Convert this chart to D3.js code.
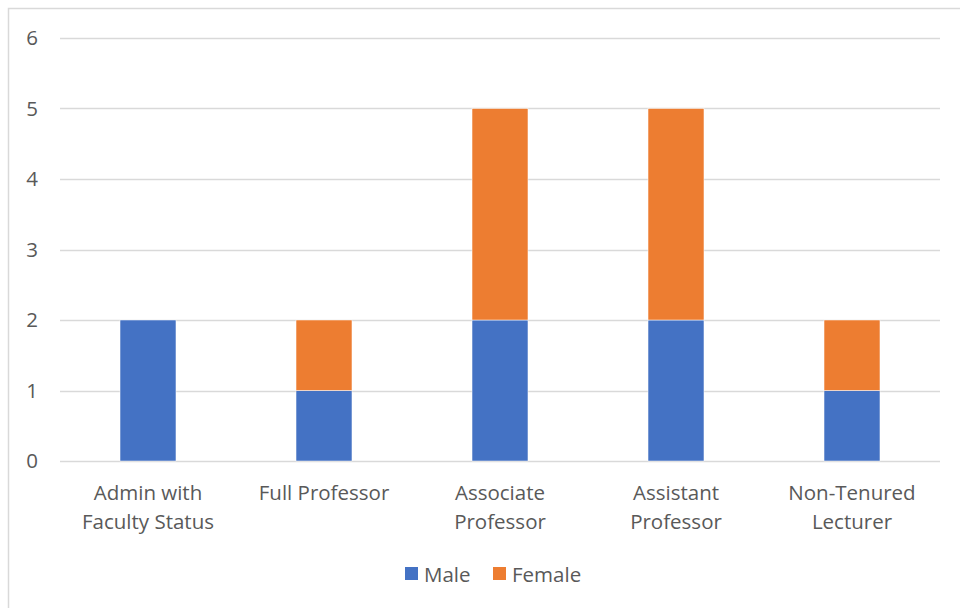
<!DOCTYPE html>
<html>
<head>
<meta charset="utf-8">
<script src="https://cdn.jsdelivr.net/npm/d3@7"></script>
<style>
  body { margin: 0; background: #fff; }
  text { font-family: "Open Sans", "Noto Sans", sans-serif; fill: #595959; }
</style>
</head>
<body>
<div id="chart"></div>
<script>
const categories = [
    ["Admin with", "Faculty Status"],
    ["Full Professor"],
    ["Associate", "Professor"],
    ["Assistant", "Professor"],
    ["Non-Tenured", "Lecturer"]
];
const maleValues = [2, 1, 2, 2, 1];
const femaleValues = [0, 1, 3, 3, 1];
const yTicks = [0, 1, 2, 3, 4, 5, 6];
const seriesNames = ["Male", "Female"];
const seriesColors = ["#4472C4", "#ED7D31"];

const width = 960, height = 608;
const margin = { top: 38, right: 20, bottom: 147, left: 60 };
const fontSize = 20.5;

const svg = d3.select("#chart")
    .append("svg")
    .attr("width", width)
    .attr("height", height);

// chart border
svg.append("rect")
    .attr("x", 8.5)
    .attr("y", 8.5)
    .attr("width", 960)
    .attr("height", 620)
    .attr("fill", "none")
    .attr("stroke", "#d9d9d9")
    .attr("stroke-width", 1.5);

const keys = categories.map(d => d.join(" "));
const data = keys.map((k, i) => ({ key: k, Male: maleValues[i], Female: femaleValues[i] }));

const x = d3.scaleBand()
    .domain(keys)
    .range([margin.left, width - margin.right])
    .paddingInner(0.682)
    .paddingOuter(0.341);

const y = d3.scaleLinear()
    .domain([0, 6])
    .range([height - margin.bottom, margin.top]);

// gridlines
svg.append("g")
    .selectAll("line")
    .data(yTicks)
    .join("line")
    .attr("x1", margin.left)
    .attr("x2", width - margin.right)
    .attr("y1", d => Math.round(y(d)) + 0.5)
    .attr("y2", d => Math.round(y(d)) + 0.5)
    .attr("stroke", "#d9d9d9")
    .attr("stroke-width", 1.3);

// y labels
svg.append("g")
    .selectAll("text")
    .data(yTicks)
    .join("text")
    .attr("x", 38)
    .attr("y", d => y(d))
    .attr("dy", "0.35em")
    .attr("text-anchor", "end")
    .attr("font-size", fontSize)
    .text(d => d);

const stack = d3.stack().keys(seriesNames)(data);

svg.append("g")
    .selectAll("g")
    .data(stack)
    .join("g")
    .attr("fill", (d, i) => seriesColors[i])
    .selectAll("rect")
    .data(d => d.filter(s => s[1] - s[0] > 0))
    .join("rect")
    .attr("x", d => x(d.data.key))
    .attr("y", d => y(d[1]))
    .attr("width", x.bandwidth())
    .attr("height", d => y(d[0]) - y(d[1]))
    .attr("stroke", "#ffffff")
    .attr("stroke-width", 0.5);

// x labels
const xl = svg.append("g")
    .selectAll("text")
    .data(categories)
    .join("text")
    .attr("x", (d, i) => x(keys[i]) + x.bandwidth() / 2)
    .attr("y", 500)
    .attr("text-anchor", "middle")
    .attr("font-size", fontSize);
xl.selectAll("tspan")
    .data(d => d)
    .join("tspan")
    .attr("x", function () { return d3.select(this.parentNode).attr("x"); })
    .attr("dy", (d, i) => i === 0 ? 0 : 29)
    .text(d => d);

// legend
const legend = svg.append("g");
const legendX = [405, 493];
seriesNames.forEach((name, i) => {
    legend.append("rect")
        .attr("x", legendX[i])
        .attr("y", 567)
        .attr("width", 13)
        .attr("height", 13)
        .attr("fill", seriesColors[i]);
    legend.append("text")
        .attr("x", legendX[i] + 19)
        .attr("y", 582)
        .attr("font-size", fontSize)
        .text(name);
});
</script>
</body>
</html>
